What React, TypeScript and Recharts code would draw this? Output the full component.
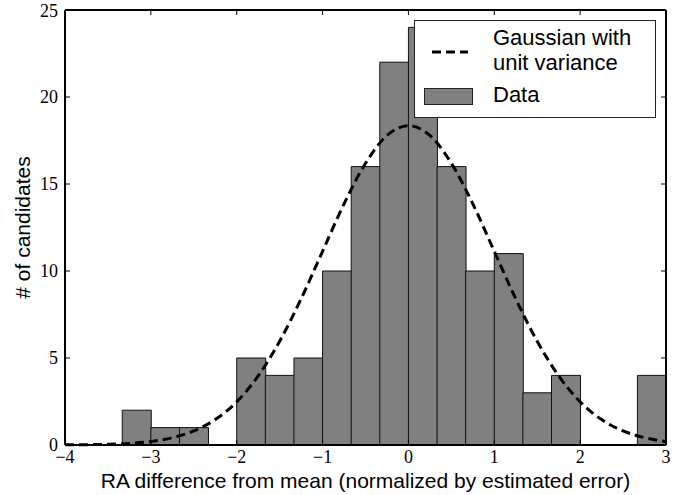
import { Bar, ComposedChart, Line, XAxis, YAxis } from "recharts";

// histogram bins, lower edge of each 1/3-wide bin
const binStarts = ["-4", "-3.67", "-3.33", "-3", "-2.67", "-2.33", "-2", "-1.67", "-1.33", "-1", "-0.67", "-0.33", "0", "0.33", "0.67", "1", "1.33", "1.67", "2", "2.33", "2.67"];
const binCounts = [0, 0, 2, 1, 1, 0, 5, 4, 5, 10, 16, 22, 24, 16, 10, 11, 3, 4, 0, 0, 4];

// dashed curve
const curveX = [-4, -3.75, -3.5, -3.25, -3, -2.75, -2.5, -2.25, -2, -1.75, -1.5, -1.25, -1, -0.75, -0.5, -0.25, 0, 0.25, 0.5, 0.75, 1, 1.25, 1.5, 1.75, 2, 2.25, 2.5, 2.75, 3];
const curveY = [0.01, 0.02, 0.04, 0.09, 0.2, 0.42, 0.81, 1.46, 2.48, 3.97, 5.96, 8.4, 11.13, 13.86, 16.19, 17.79, 18.35, 17.79, 16.19, 13.86, 11.13, 8.4, 5.96, 3.97, 2.48, 1.46, 0.81, 0.42, 0.2];

const xTicks = [-4, -3, -2, -1, 0, 1, 2, 3];
const yTicks = [0, 5, 10, 15, 20, 25];

const binData = binStarts.map((b, i) => ({ bin: b, count: binCounts[i] }));
const curveData = curveX.map((x, i) => ({ x, y: curveY[i] }));

const serif = "'Liberation Serif', 'DejaVu Serif', serif";
const sans = "'Liberation Sans', Arial, sans-serif";
const fmt = (v: number) => (v < 0 ? `\u2212${-v}` : `${v}`);
const noLabel = () => "";
const tickStyle = { fill: "#000", fontSize: 18, fontFamily: serif };
const axisLine = { stroke: "#000", strokeWidth: 2 };
const tickLine = { stroke: "#000", strokeWidth: 1 };

function LegendBox() {
  return (
    <svg width={242} height={98} style={{ position: "absolute", left: 414, top: 20 }}>
      <rect x={0.5} y={0.5} width={241} height={97} fill="#fff" stroke="#222" />
      <line x1={18} y1={32} x2={54} y2={32} stroke="#000" strokeWidth={3} strokeDasharray="9 5" />
      <rect x={10.5} y={68.5} width={48} height={16} fill="#808080" stroke="#222" />
      <g fontFamily={sans} fontSize={22} fill="#000">
        <text x={79} y={25}>Gaussian with</text>
        <text x={79} y={50}>unit variance</text>
        <text x={79} y={82}>Data</text>
      </g>
    </svg>
  );
}

export default function App() {
  return (
    <div style={{ position: "absolute", left: 0, top: 0, width: 692, height: 495, background: "#fff" }}>
      <ComposedChart width={692} height={495} data={binData} margin={{ top: 10, right: 26, left: 0, bottom: 0 }} barCategoryGap={0} barGap={0}>
        <XAxis xAxisId="bins" dataKey="bin" type="category" hide height={0} />
        <XAxis
          xAxisId="num"
          dataKey="x"
          type="number"
          domain={[-4, 3]}
          ticks={xTicks}
          allowDataOverflow
          height={50}
          tickSize={0}
          tickMargin={5}
          axisLine={axisLine}
          tickLine={false}
          tick={tickStyle}
          tickFormatter={fmt}
          label={{ value: "RA difference from mean (normalized by estimated error)", position: "insideBottom", offset: 7, style: { fill: "#000", fontSize: 21, fontFamily: sans } }}
        />
        {/* inward tick marks on all four sides */}
        <XAxis xAxisId="bottomTicks" orientation="bottom" mirror dataKey="x" type="number" domain={[-4, 3]} ticks={xTicks} allowDataOverflow height={1} tickSize={5} axisLine={false} tickLine={tickLine} tickFormatter={noLabel} />
        <XAxis xAxisId="top" orientation="top" mirror dataKey="x" type="number" domain={[-4, 3]} ticks={xTicks} allowDataOverflow height={1} tickSize={5} axisLine={axisLine} tickLine={tickLine} tickFormatter={noLabel} />
        <YAxis
          yAxisId="left"
          type="number"
          domain={[0, 25]}
          ticks={yTicks}
          width={65}
          tickSize={0}
          tickMargin={7}
          axisLine={axisLine}
          tickLine={false}
          tick={tickStyle}
          label={{ value: "# of candidates", angle: -90, position: "insideLeft", offset: 23, style: { fill: "#000", fontSize: 21, fontFamily: sans, textAnchor: "middle" } }}
        />
        <YAxis yAxisId="leftTicks" orientation="left" mirror type="number" domain={[0, 25]} ticks={yTicks} allowDataOverflow width={1} tickSize={5} axisLine={false} tickLine={tickLine} tickFormatter={noLabel} />
        <YAxis yAxisId="right" orientation="right" mirror type="number" domain={[0, 25]} ticks={yTicks} allowDataOverflow width={1} tickSize={5} axisLine={axisLine} tickLine={tickLine} tickFormatter={noLabel} />
        <Bar xAxisId="bins" yAxisId="left" dataKey="count" fill="#808080" stroke="#111" strokeWidth={1} isAnimationActive={false} />
        <Line
          xAxisId="num"
          yAxisId="left"
          data={curveData}
          dataKey="y"
          type="monotone"
          stroke="#000"
          strokeWidth={3}
          strokeDasharray="9 5"
          dot={false}
          isAnimationActive={false}
        />
        {/* invisible series so the frame axes get a scale */}
        <Line xAxisId="top" yAxisId="right" data={curveData} dataKey="y" stroke="none" dot={false} activeDot={false} isAnimationActive={false} />
        <Line xAxisId="bottomTicks" yAxisId="leftTicks" data={curveData} dataKey="y" stroke="none" dot={false} activeDot={false} isAnimationActive={false} />
      </ComposedChart>
      <LegendBox />
    </div>
  );
}
